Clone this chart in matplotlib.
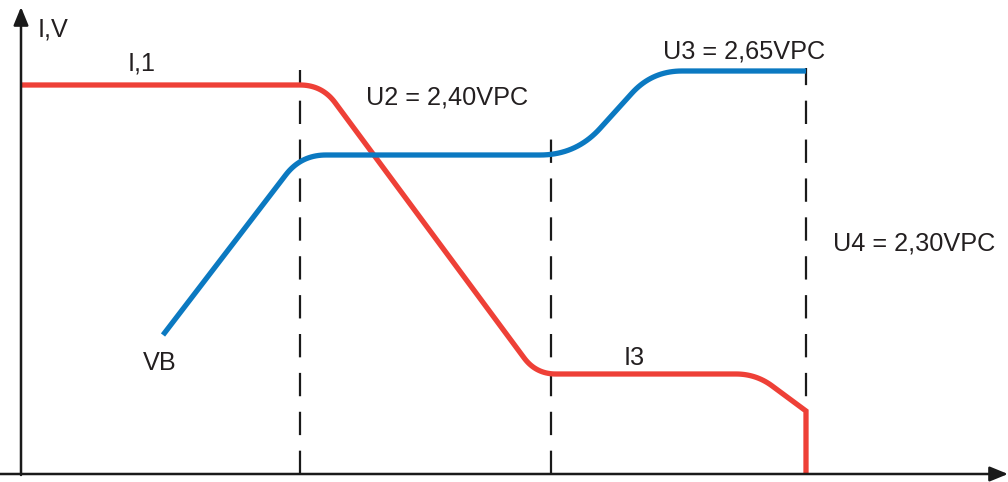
import numpy as np
import matplotlib
matplotlib.use("Agg")
import matplotlib.pyplot as plt

# ---- data (chart units: x = time, y = value) ----
red_x = [0, 301, 515, 735, 785, 785]
red_y = [389, 389, 100, 100, 63, 0]
red_round = [22, 20, 20, 0]          # corner rounding (interior vertices)

blue_x = [142, 280, 555, 631, 785]
blue_y = [139, 319, 319, 403, 403]
blue_round = [25, 36, 30]

dash_x = [279, 530, 785]
dash_top = [404, 349, 406]

labels = ["I,V", "I,1", "U2 = 2,40VPC", "U3 = 2,65VPC", "U4 = 2,30VPC", "VB", "I3"]
label_x = [17, 121, 345, 642, 812, 139, 613]
label_y = [444, 411, 376, 422, 231, 111, 116]
label_ha = ["left", "center", "left", "left", "left", "center", "center"]


def rounded(xs, ys, rs, n=20):
    pts = np.column_stack([xs, ys]).astype(float)
    out = [pts[0]]
    for i in range(1, len(pts) - 1):
        p, c, q = pts[i - 1], pts[i], pts[i + 1]
        r = rs[i - 1]
        if r <= 0:
            out.append(c)
            continue
        d1 = (p - c) / np.linalg.norm(p - c)
        d2 = (q - c) / np.linalg.norm(q - c)
        a = c + d1 * r
        b = c + d2 * r
        t = np.linspace(0, 1, n)[:, None]
        curve = (1 - t) ** 2 * a + 2 * (1 - t) * t * c + t ** 2 * b
        out.extend(curve)
    out.append(pts[-1])
    out = np.array(out)
    return out[:, 0], out[:, 1]


plt.rcParams['font.family'] = ['Liberation Sans', 'DejaVu Sans']

fig = plt.figure(figsize=(10.08, 4.82), dpi=100)
ax = fig.add_axes([0, 0, 1, 1])
ax.set_xlim(-21, 987)
ax.set_ylim(-8, 474)
ax.axis('off')

# dashed verticals
for x, top in zip(dash_x, dash_top):
    ax.plot([x, x], [0, top], color='#1a1a1a', lw=1.6, dashes=(10.5, 7), zorder=1)

rx, ry = rounded(red_x, red_y, red_round)
ax.plot(rx, ry, color='#EE4037', lw=3.8, solid_joinstyle='miter', solid_capstyle='butt', zorder=3)
bx, by = rounded(blue_x, blue_y, blue_round)
ax.plot(bx, by, color='#0B79C1', lw=3.8, solid_capstyle='butt', zorder=3)

# axes with arrows
ax.annotate('', xy=(0, 467), xytext=(0, -1),
            arrowprops=dict(arrowstyle='-|>,head_length=1.1,head_width=0.45', color='#1a1a1a', lw=1.8,
                            shrinkA=0, shrinkB=0), zorder=4)
ax.annotate('', xy=(987, 0), xytext=(-21, 0),
            arrowprops=dict(arrowstyle='-|>,head_length=1.1,head_width=0.45', color='#1a1a1a', lw=1.8,
                            shrinkA=0, shrinkB=0), zorder=4)

for t, x, y, ha in zip(labels, label_x, label_y, label_ha):
    ax.text(x, y, t, ha=ha, va='center', fontsize=18.2, color='#231f20')

fig.savefig('out.png', dpi=100)
